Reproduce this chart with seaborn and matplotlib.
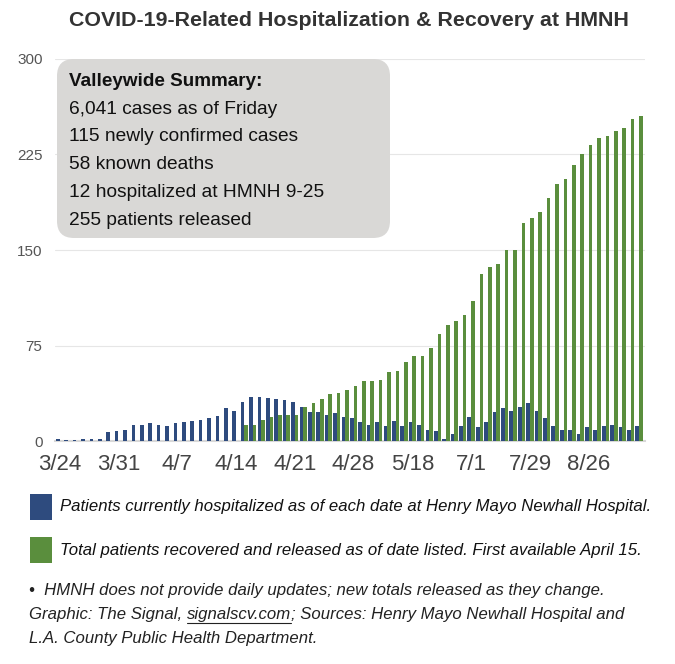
import matplotlib
matplotlib.use("Agg")
import matplotlib.pyplot as plt
from matplotlib.patches import FancyBboxPatch, Rectangle
from matplotlib.lines import Line2D
import numpy as np
import pandas as pd
import seaborn as sns

# --- data --------------------------------------------------------------
dates = [
    "3/24", "3/25", "3/26", "3/27", "3/28", "3/29", "3/30",
    "3/31", "4/1", "4/2", "4/3", "4/4", "4/5", "4/6",
    "4/7", "4/8", "4/9", "4/10", "4/11", "4/12", "4/13",
    "4/14", "4/15", "4/16", "4/17", "4/18", "4/19", "4/20",
    "4/21", "4/22", "4/23", "4/24", "4/25", "4/26", "4/27",
    "4/28", "4/30", "5/2", "5/5", "5/8", "5/12", "5/15",
    "5/18", "5/22", "5/27", "6/2", "6/9", "6/16", "6/23",
    "7/1", "7/6", "7/10", "7/14", "7/17", "7/21", "7/24",
    "7/29", "8/3", "8/7", "8/11", "8/14", "8/18", "8/21",
    "8/26", "8/31", "9/4", "9/9", "9/14", "9/18", "9/25",
]

hospitalized = [
    2, 1, 1, 2, 2, 2, 7, 8, 9, 13, 13, 14, 13, 12, 14, 15, 16,
    17, 18, 20, 26, 24, 31, 35, 35, 34, 33, 32, 31, 27, 23, 23, 21, 22, 19,
    18, 15, 13, 15, 12, 16, 12, 15, 13, 9, 8, 2, 6, 12, 19, 11, 15, 23,
    26, 24, 27, 30, 24, 18, 12, 9, 9, 6, 11, 9, 12, 13, 11, 9, 12,
]

# recovered/released only reported from 4/15 on
released = [None] * 22 + [
    13, 13, 17, 19, 21, 21, 21, 27, 30, 33, 37, 38, 40,
    43, 47, 47, 48, 54, 55, 62, 67, 67, 73,
    84, 91, 94, 99, 110, 131, 137, 139, 150, 150,
    171, 175, 180, 191, 202, 206, 217, 225, 232, 238,
    239, 243, 246, 253, 255,
]

summary_title = "Valleywide Summary:"
summary_lines = [
    "6,041 cases as of Friday",
    "115 newly confirmed cases",
    "58 known deaths",
    "12 hospitalized at HMNH 9-25",
    "255 patients released",
]

BLUE = "#2e4b7e"
GREEN = "#5a8e3d"

df = pd.DataFrame({
    "date": dates * 2,
    "value": hospitalized + released,
    "series": ["hosp"] * len(dates) + ["released"] * len(dates),
})
df["value"] = pd.to_numeric(df["value"])

sns.set_theme(style="white")
plt.rcParams["font.family"] = ["Liberation Sans", "DejaVu Sans"]

W, H = 675, 664
fig = plt.figure(figsize=(W / 100, H / 100), dpi=100)


def fx(px):
    return px / W


def fy(py):
    return 1 - py / H


ax = fig.add_axes([fx(55), fy(441.3), fx(645) - fx(55), fy(58.7) - fy(441.3)])

sns.barplot(
    data=df, x="date", y="value", hue="series", order=dates,
    hue_order=["hosp", "released"], palette=[BLUE, GREEN],
    width=0.87, dodge=True, legend=False, ax=ax, saturation=1,
    linewidth=0,
)

ax.set_ylim(0, 300)
ax.set_xlim(-0.55, 69.7)
ax.set_yticks([0, 75, 150, 225, 300])
ax.set_yticklabels(["0", "75", "150", "225", "300"], fontsize=11, color="#555555")
ax.set_xticks(range(0, len(dates), 7))
ax.set_xticklabels(dates[::7], fontsize=16, color="#444444")
ax.tick_params(axis="y", length=0, pad=9)
ax.tick_params(axis="x", length=0, pad=9)
ax.set_xlabel("")
ax.set_ylabel("")
for s in ["top", "right", "left"]:
    ax.spines[s].set_visible(False)
# baseline sits under the bars so the tiny early bars stay visible
ax.spines["bottom"].set_color("#d8d8d8")
ax.spines["bottom"].set_linewidth(1.5)
ax.spines["bottom"].set_zorder(0.5)
for yv in [75, 150, 225, 300]:
    ax.axhline(yv, color="#e6e6e6", linewidth=0.8, zorder=0)

# title
fig.text(fx(348.5), fy(21), "COVID-19-Related Hospitalization & Recovery at HMNH",
         ha="center", va="center", fontsize=15.4, fontweight="bold", color="#333333")

# summary box
box = FancyBboxPatch(
    (0.57, (H - 238) / 100), 3.33, 1.79,
    boxstyle="round,pad=0,rounding_size=0.17",
    transform=fig.dpi_scale_trans, facecolor="#d9d8d6", edgecolor="none", zorder=3,
)
fig.add_artist(box)
fig.text(fx(69), fy(86.5), summary_title, fontsize=13.6, fontweight="bold",
         color="#111111", va="baseline", zorder=4)
for i, line in enumerate(summary_lines):
    fig.text(fx(69), fy(113.5 + 27.8 * i), line, fontsize=13.8,
             color="#111111", va="baseline", zorder=4)

# legend swatches
fig.add_artist(Rectangle((fx(30), fy(520)), fx(52) - fx(30), fy(494) - fy(520),
                         transform=fig.transFigure, facecolor=BLUE, edgecolor="none"))
fig.add_artist(Rectangle((fx(30), fy(563)), fx(52) - fx(30), fy(537) - fy(563),
                         transform=fig.transFigure, facecolor=GREEN, edgecolor="none"))
fig.text(fx(60), fy(507), "Patients currently hospitalized as of each date at Henry Mayo Newhall Hospital.",
         fontsize=12.1, style="italic", color="#111111", va="center")
fig.text(fx(60), fy(550), "Total patients recovered and released as of date listed. First available April 15.",
         fontsize=12.1, style="italic", color="#111111", va="center")

# footnotes
fig.text(fx(29), fy(590), "\u2022  HMNH does not provide daily updates; new totals released as they change.",
         fontsize=12.1, style="italic", color="#222222", va="center")

renderer = fig.canvas.get_renderer()
x_px = 29
parts = ["Graphic: The Signal, ", "signalscv.com", "; Sources: Henry Mayo Newhall Hospital and"]
for k, part in enumerate(parts):
    t = fig.text(fx(x_px), fy(614), part, fontsize=12.1, style="italic",
                 color="#222222", va="center")
    bb = t.get_window_extent(renderer=renderer)
    if k == 1:
        uy = fy(623)
        fig.add_artist(Line2D([fx(x_px), fx(x_px + bb.width)], [uy, uy],
                              transform=fig.transFigure, color="#222222", linewidth=0.8))
    x_px += bb.width
fig.text(fx(29), fy(638), "L.A. County Public Health Department.",
         fontsize=12.1, style="italic", color="#222222", va="center")

fig.savefig("out.png", dpi=100)
